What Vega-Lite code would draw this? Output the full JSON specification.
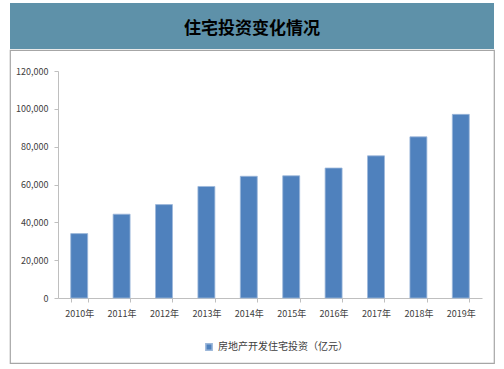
{
  "$schema": "https://vega.github.io/schema/vega-lite/v6.json",
  "padding": {"left": 9, "top": 3, "right": 11, "bottom": 7},
  "background": "white",
  "config": {"view": {"stroke": null}, "font": "Noto Sans CJK SC"},
  "spacing": 0,
  "vconcat": [
    {
      "width": 484,
      "height": 46,
      "view": {"fill": "#5E91A9", "stroke": null},
      "data": {"values": [{"t": "住宅投资变化情况"}]},
      "mark": {"type": "text", "fontSize": 17, "fontWeight": "bold", "color": "#000000", "font": "Noto Sans CJK SC", "dy": 3},
      "encoding": {"text": {"field": "t"}}
    },
    {
      "width": 484,
      "height": 313,
      "view": {"fill": "white", "stroke": "#A6A6A6", "strokeWidth": 1.2},
      "data": {"values": [
        {"year": "2010年", "value": 34038, "series": "房地产开发住宅投资（亿元）"},
        {"year": "2011年", "value": 44308, "series": "房地产开发住宅投资（亿元）"},
        {"year": "2012年", "value": 49374, "series": "房地产开发住宅投资（亿元）"},
        {"year": "2013年", "value": 58951, "series": "房地产开发住宅投资（亿元）"},
        {"year": "2014年", "value": 64352, "series": "房地产开发住宅投资（亿元）"},
        {"year": "2015年", "value": 64595, "series": "房地产开发住宅投资（亿元）"},
        {"year": "2016年", "value": 68704, "series": "房地产开发住宅投资（亿元）"},
        {"year": "2017年", "value": 75148, "series": "房地产开发住宅投资（亿元）"},
        {"year": "2018年", "value": 85192, "series": "房地产开发住宅投资（亿元）"},
        {"year": "2019年", "value": 97071, "series": "房地产开发住宅投资（亿元）"}
      ]},
      "mark": {"type": "bar", "stroke": "#9DB8DA", "strokeWidth": 0.8},
      "encoding": {
        "x": {
          "field": "year", "type": "nominal", "sort": null,
          "scale": {"paddingInner": 0.6, "paddingOuter": 0.3, "range": [48, 472]},
          "axis": {"title": null, "labelAngle": 0, "tickBand": "extent", "labelFontSize": 9, "labelColor": "#404040",
                   "labelPadding": 7, "tickColor": "#BFBFBF", "domainColor": "#BFBFBF", "tickSize": 4, "offset": -65}
        },
        "y": {
          "field": "value", "type": "quantitative",
          "scale": {"domain": [0, 120000], "range": [248, 21]},
          "axis": {"title": null, "grid": false, "format": ",.0f", "values": [0, 20000, 40000, 60000, 80000, 100000, 120000],
                   "labelFontSize": 9, "labelColor": "#404040", "labelPadding": 6, "tickColor": "#BFBFBF",
                   "domainColor": "#BFBFBF", "tickSize": 4, "offset": -48}
        },
        "color": {
          "field": "series", "type": "nominal",
          "scale": {"range": ["#4F81BD"]},
          "legend": {"title": null, "orient": "none", "legendX": 194, "legendY": 339, "direction": "horizontal", "symbolType": "square",
                     "symbolSize": 40, "labelFontSize": 10, "labelColor": "#404040"}
        }
      }
    }
  ]
}
